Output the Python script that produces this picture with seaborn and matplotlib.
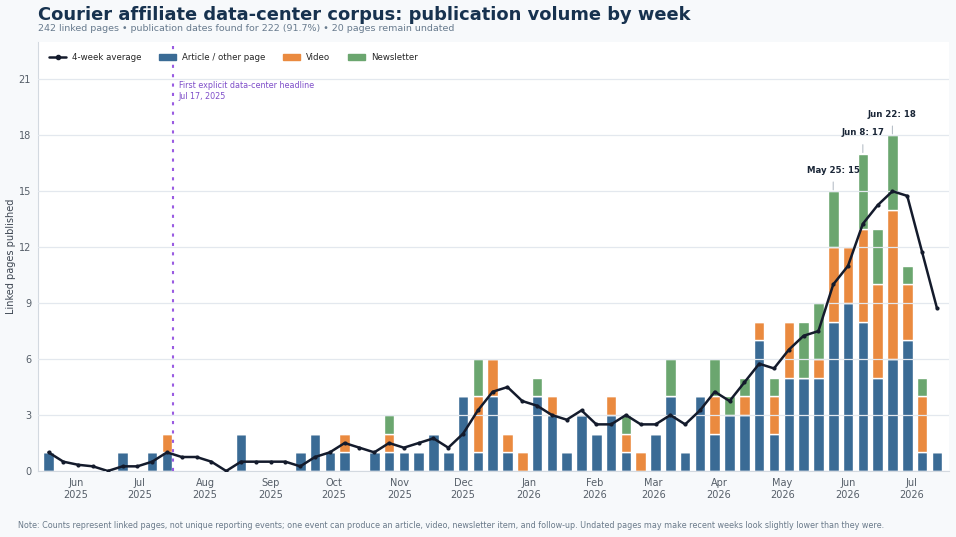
import pandas as pd
import matplotlib
matplotlib.use("Agg")
import matplotlib.pyplot as plt
import matplotlib.dates as mdates
from matplotlib.patches import Patch
from matplotlib.lines import Line2D
import seaborn as sns

# Weekly counts (week starting Monday)
weeks = pd.date_range("2025-05-19", "2026-07-13", freq="7D")
article = [1, 0, 0, 0, 0, 1, 0, 1, 1, 0,
           0, 0, 0, 2, 0, 0, 0, 1, 2, 1,
           1, 0, 1, 1, 1, 1, 2, 1, 4, 1,
           4, 1, 0, 4, 3, 1, 3, 2, 3, 1,
           0, 2, 4, 1, 4, 2, 3, 3, 7, 2,
           5, 5, 5, 8, 9, 8, 5, 6, 7, 1, 1]
video = [0, 0, 0, 0, 0, 0, 0, 0, 1, 0,
         0, 0, 0, 0, 0, 0, 0, 0, 0, 0,
         1, 0, 0, 1, 0, 0, 0, 0, 0, 3,
         2, 1, 1, 0, 1, 0, 0, 0, 1, 1,
         1, 0, 0, 0, 0, 2, 0, 1, 1, 2,
         3, 0, 1, 4, 3, 5, 5, 8, 3, 3, 0]
newsletter = [0, 0, 0, 0, 0, 0, 0, 0, 0, 0,
              0, 0, 0, 0, 0, 0, 0, 0, 0, 0,
              0, 0, 0, 1, 0, 0, 0, 0, 0, 2,
              0, 0, 0, 1, 0, 0, 0, 0, 0, 1,
              0, 0, 2, 0, 0, 2, 1, 1, 0, 1,
              0, 3, 3, 3, 0, 4, 3, 4, 1, 1, 0]

headline_date = pd.Timestamp("2025-07-17")

df = pd.DataFrame({"week": weeks, "article": article, "video": video, "newsletter": newsletter})
df["total"] = df["article"] + df["video"] + df["newsletter"]
df["avg4"] = df["total"].rolling(4, min_periods=1).mean()

c_article = "#3a6b95"
c_video = "#ea8a3f"
c_news = "#6ba66f"
c_line = "#141b2c"
c_purple = "#9a5ce2"
navy = "#17324f"

sns.set_theme(style="white")
plt.rcParams["font.family"] = ["DejaVu Sans"]

fig = plt.figure(figsize=(9.56, 5.37), dpi=100, facecolor="#f7f9fb")
ax = fig.add_axes([0.0397, 0.1229, 0.9530, 0.7989])
ax.set_facecolor("white")

# stacked bars
ax.bar(df["week"], df["article"], width=5, color=c_article, zorder=1)
ax.bar(df["week"], df["video"], width=5, bottom=df["article"], color=c_video, zorder=1)
ax.bar(df["week"], df["newsletter"], width=5, bottom=df["article"] + df["video"], color=c_news, zorder=1)

# 4-week rolling average
sns.lineplot(data=df, x="week", y="avg4", ax=ax, color=c_line, lw=1.8,
             marker="o", markersize=3, markeredgewidth=0, zorder=4, legend=False)

# first explicit headline marker
ax.axvline(headline_date, color=c_purple, lw=1.5, ls=(0, (1.5, 3)), zorder=5)
ax.annotate("First explicit data-center headline\nJul 17, 2025", xy=(headline_date, 20.9),
            xytext=(4, 0), textcoords="offset points", ha="left", va="top",
            fontsize=5.8, color="#7f4ec9", linespacing=1.3)

# label the three biggest weeks
for _, row in df.nlargest(3, "total").iterrows():
    ax.annotate(f"{row['week'].strftime('%b')} {row['week'].day}: {row['total']}",
                xy=(row["week"], row["total"]), xytext=(0, 12), textcoords="offset points",
                ha="center", va="bottom", fontsize=6.2, fontweight="bold", color="#1b2738",
                arrowprops=dict(arrowstyle="-", color="#b8c0c8", lw=0.8, shrinkA=3, shrinkB=1))

ax.set_xlim(pd.Timestamp("2025-05-14"), pd.Timestamp("2026-07-18 18:00"))
ax.set_ylim(0, 23)
ax.set_yticks(range(0, 22, 3))
ax.xaxis.set_major_locator(mdates.MonthLocator())
ax.xaxis.set_major_formatter(mdates.DateFormatter("%b\n%Y"))

ax.yaxis.grid(True, color="#e3e8ee", lw=0.9)
ax.set_axisbelow(False)
ax.tick_params(axis="both", labelsize=7, colors="#555e68", length=3, width=0.7, pad=2)
for t in ax.get_xticklabels() + ax.get_yticklabels():
    t.set_color("#555e68")
ax.set_xlabel("")
ax.set_ylabel("Linked pages published", fontsize=7, color="#3d4652", labelpad=2)
for s in ["top", "right"]:
    ax.spines[s].set_visible(False)
for s in ["left", "bottom"]:
    ax.spines[s].set_color("#d3d9e0")
    ax.spines[s].set_linewidth(0.8)

handles = [
    Line2D([0], [0], color=c_line, lw=1.8, marker="o", markersize=3),
    Patch(color=c_article),
    Patch(color=c_video),
    Patch(color=c_news),
]
labels = ["4-week average", "Article / other page", "Video", "Newsletter"]
ax.legend(handles, labels, loc="upper left", ncol=4, frameon=False, fontsize=6.2,
          handlelength=2.0, handleheight=0.6, handletextpad=0.7, columnspacing=2.0,
          borderaxespad=0.9, bbox_to_anchor=(0.0, 1.0))

fig.text(0.0397, 0.972, "Courier affiliate data-center corpus: publication volume by week",
         fontsize=12.9, fontweight="bold", color=navy, ha="left", va="center")
fig.text(0.0397, 0.946, "242 linked pages \u2022 publication dates found for 222 (91.7%) \u2022 20 pages remain undated",
         fontsize=6.8, color="#687b8e", ha="left", va="center")
fig.text(0.019, 0.022, "Note: Counts represent linked pages, not unique reporting events; one event can produce an article, "
         "video, newsletter item, and follow-up. Undated pages may make recent weeks look slightly lower than they were.",
         fontsize=5.8, color="#6a7a8a", ha="left", va="center")

fig.savefig("out.png", dpi=100, facecolor=fig.get_facecolor())
